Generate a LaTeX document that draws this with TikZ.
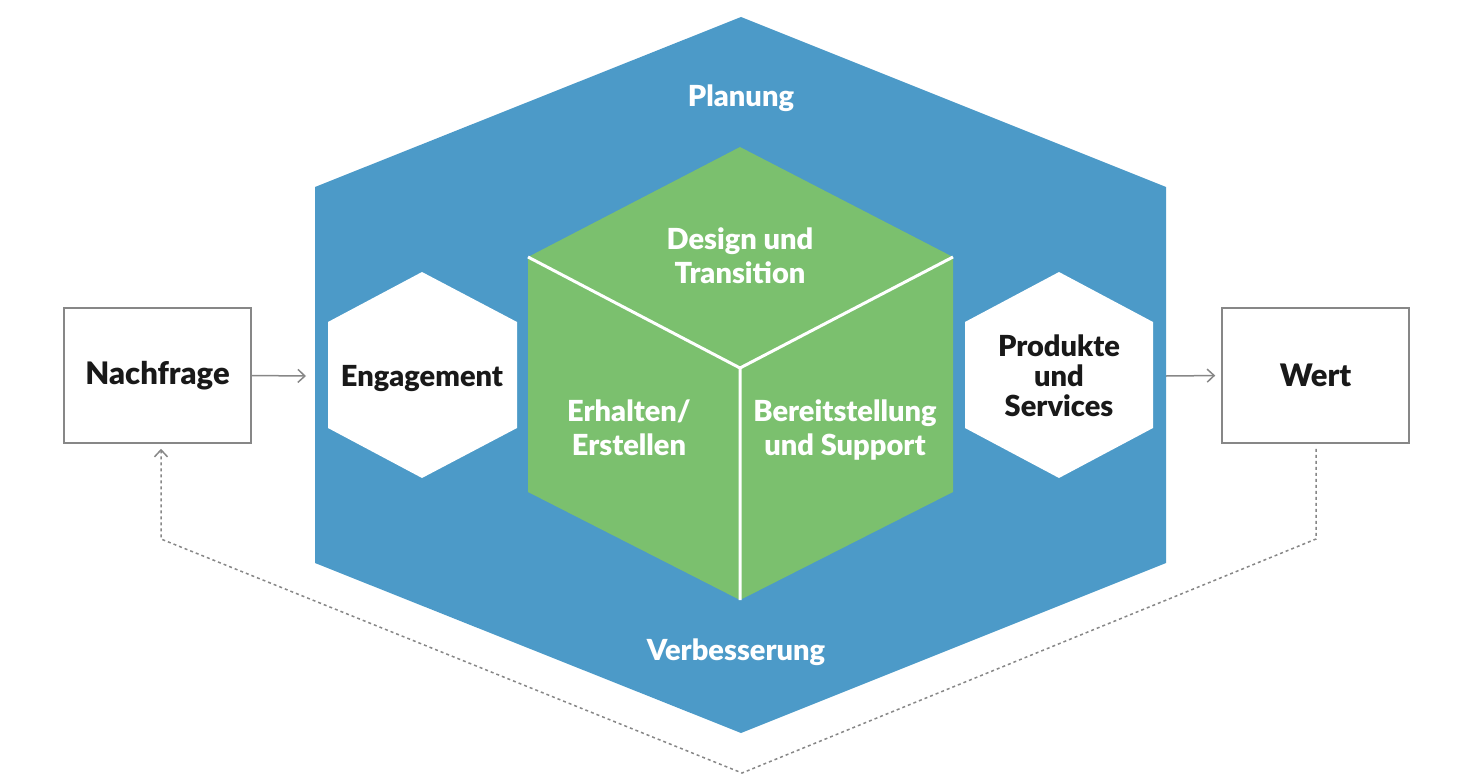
\documentclass[tikz,border=0pt]{standalone}
\usepackage{fontspec}
\setmainfont{Lato}[BoldFont={Lato Black}]
\usepackage{xcolor}
\usepackage{tikz}
\usetikzlibrary{
	arrows.meta,
	calc,
	positioning
}

\definecolor{itilblue}{RGB}{76,154,200}
\definecolor{itilgreen}{RGB}{123,192,110}
\definecolor{linegray}{RGB}{135,135,135}

\tikzset{
	lbl/.style={font=\bfseries\fontsize{29}{34}\selectfont, align=center, inner sep=0pt},
	box/.style={lbl, draw=linegray, line width=1.5pt, text=black!90,
		minimum width=187pt, minimum height=135pt,
		font=\bfseries\fontsize{31}{34}\selectfont},
	conn/.style={draw=linegray, line width=1.5pt,
		-{Straight Barb[length=7pt,width=13pt]}}
}

\begin{document}
\begin{tikzpicture}[x=1pt, y=-1pt]
	\useasboundingbox (0,0) rectangle (1484,784);
	
	% 蓝色大六边形
	\fill[itilblue] (741,17) -- (1166,187) -- (1166,563) -- (741,733)
		-- (315,563) -- (315,187) -- cycle;
	
	% 绿色立方体
	\fill[itilgreen] (740,147) -- (953,257) -- (953,492) -- (740,600)
		-- (528,492) -- (528,257) -- cycle;
	\draw[white, line width=3pt] (528,257) -- (740,368) -- (953,257)
		(740,368) -- (740,600);
	
	% 白色小六边形
	\fill[white] (422,272) -- (517,322) -- (517,428) -- (422,478)
		-- (328,428) -- (328,322) -- cycle;
	\fill[white] (1059,272) -- (1153,322) -- (1153,428) -- (1059,478)
		-- (965,428) -- (965,322) -- cycle;
	
	% 文字
	\node[lbl, white] (planung) at (741,98) {Planung};
	\node[lbl, white] (verbesserung) at (736,652) {Verbesserung};
	\node[lbl, white] (design) at (740,256) {Design und\\Transition};
	\node[lbl, white] (erhalten) at (629,428) {Erhalten/\\Erstellen};
	\node[lbl, white] (bereit) at (845,430) {Bereitstellung\\und Support};
	\node[lbl, text=black!90] (engagement) at (422,379) {Engagement};
	\node[lbl, text=black!90, font=\bfseries\fontsize{29}{30}\selectfont]
		(produkte) at (1059,376) {Produkte\\und\\Services};
	
	\node[box] (nachfrage) at (157.5,375.5) {Nachfrage};
	\node[box] (wert) at (1315.5,375.5) {Wert};
	
	% 连接箭头
	\coordinate (eng-in) at (306,376);
	\coordinate (prod-out) at (1166,376);
	\draw[conn] (nachfrage.east) -- (eng-in);
	\draw[conn, shorten >=6pt] (prod-out) -- (wert.west);
	
	% 反馈虚线
	\coordinate (fb-r) at (1316,539);
	\coordinate (fb-m) at (742,773);
	\coordinate (fb-l) at (161,539);
	\draw[conn, dash pattern=on 3pt off 3pt, shorten <=5pt, shorten >=5pt]
		(fb-r |- wert.south) -- (fb-r) -- (fb-m) -- (fb-l) -- (fb-l |- nachfrage.south);
\end{tikzpicture}
\end{document}
